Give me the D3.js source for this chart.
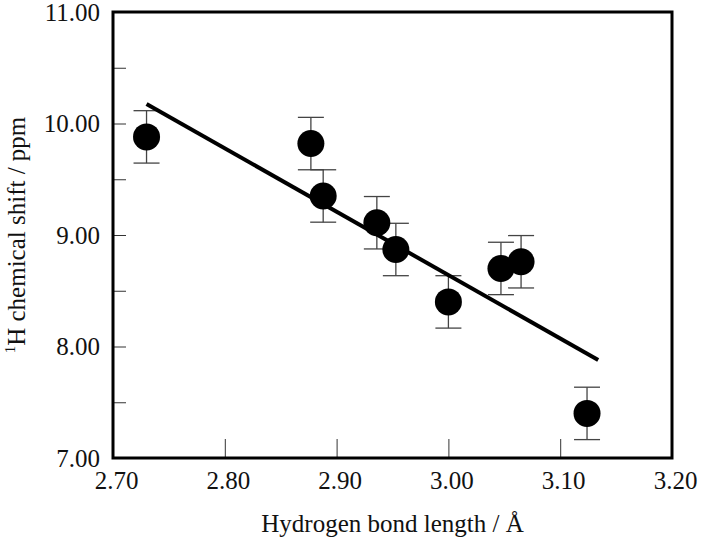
<!DOCTYPE html>
<html>
<head>
<meta charset="utf-8">
<script src="https://cdn.jsdelivr.net/npm/d3@7"></script>
<style>
  html, body { margin: 0; padding: 0; background: #fff; }
  svg { display: block; }
</style>
</head>
<body>
<svg id="chart" width="702" height="544"></svg>
<script>
// Data
const bondLength = [2.730, 2.877, 2.888, 2.936, 2.953, 3.000, 3.047, 3.065, 3.124];
const chemShift  = [9.88, 9.82, 9.35, 9.11, 8.87, 8.40, 8.70, 8.76, 7.40];
const shiftError = [0.235, 0.235, 0.235, 0.235, 0.235, 0.235, 0.235, 0.235, 0.235];
const fitX = [2.730, 3.134];
const fitY = [10.175, 7.879];
const xTicks = [2.70, 2.80, 2.90, 3.00, 3.10, 3.20];
const yTicks = [7.0, 7.5, 8.0, 8.5, 9.0, 9.5, 10.0, 10.5, 11.0];
const xTitle = "Hydrogen bond length / Å";
const yTitleSup = "1";
const yTitleRest = "H chemical shift / ppm";

const W = 702, H = 544;
const m = { left: 113, right: 702 - 672, top: 12, bottom: 544 - 458 };
const font = "'Liberation Serif', 'Times New Roman', serif";

const svg = d3.select("#chart");
svg.append("rect").attr("width", W).attr("height", H).attr("fill", "#fff");

const x = d3.scaleLinear().domain([2.70, 3.20]).range([m.left, W - m.right]);
const y = d3.scaleLinear().domain([7, 11]).range([H - m.bottom, m.top]);

// X axis
const xAxis = d3.axisBottom(x)
  .tickValues(xTicks)
  .tickFormat(d => d.toFixed(2))
  .tickSizeInner(-19).tickSizeOuter(0).tickPadding(13);
const gx = svg.append("g").attr("transform", `translate(0,${H - m.bottom})`).call(xAxis);
gx.select(".domain").remove();
gx.selectAll(".tick line").attr("stroke", "#333").attr("stroke-width", 1);
gx.selectAll(".tick text").attr("font-family", font).attr("font-size", 25).attr("fill", "#111")
  .attr("dx", 3);

// Y axis
const yAxis = d3.axisLeft(y)
  .tickValues(yTicks)
  .tickFormat(d => Number.isInteger(d) ? d.toFixed(2) : "")
  .tickSizeInner(-13).tickSizeOuter(0).tickPadding(13);
const gy = svg.append("g").attr("transform", `translate(${m.left},0)`).call(yAxis);
gy.select(".domain").remove();
gy.selectAll(".tick line").attr("stroke", "#333").attr("stroke-width", 1);
gy.selectAll(".tick text").attr("font-family", font).attr("font-size", 25).attr("fill", "#111");

// Frame
svg.append("rect")
  .attr("x", m.left).attr("y", m.top)
  .attr("width", W - m.right - m.left).attr("height", H - m.bottom - m.top)
  .attr("fill", "none").attr("stroke", "#000").attr("stroke-width", 3);

// Data rows
const rows = bondLength.map((v, i) => ({ x: v, y: chemShift[i], e: shiftError[i] }));

// Error bars
const eb = svg.append("g").attr("stroke", "#444").attr("stroke-width", 1.3);
const capW = 13;
rows.forEach(d => {
  eb.append("line").attr("x1", x(d.x)).attr("x2", x(d.x))
    .attr("y1", y(d.y + d.e)).attr("y2", y(d.y - d.e));
  eb.append("line").attr("x1", x(d.x) - capW).attr("x2", x(d.x) + capW)
    .attr("y1", y(d.y + d.e)).attr("y2", y(d.y + d.e));
  eb.append("line").attr("x1", x(d.x) - capW).attr("x2", x(d.x) + capW)
    .attr("y1", y(d.y - d.e)).attr("y2", y(d.y - d.e));
});

// Fit line
const fit = fitX.map((v, i) => [v, fitY[i]]);
svg.append("path")
  .attr("d", d3.line().x(d => x(d[0])).y(d => y(d[1]))(fit))
  .attr("fill", "none").attr("stroke", "#000").attr("stroke-width", 4);

// Points
svg.append("g").selectAll("circle").data(rows).join("circle")
  .attr("cx", d => x(d.x)).attr("cy", d => y(d.y)).attr("r", 13.5)
  .attr("fill", "#000");

// Axis titles
svg.append("text")
  .attr("x", (m.left + W - m.right) / 2).attr("y", 532)
  .attr("text-anchor", "middle")
  .attr("font-family", font).attr("font-size", 25).attr("fill", "#111")
  .text(xTitle);

const yt = svg.append("text")
  .attr("transform", `translate(25,${(m.top + H - m.bottom) / 2}) rotate(-90)`)
  .attr("text-anchor", "middle")
  .attr("font-family", font).attr("font-size", 25).attr("fill", "#111");
yt.append("tspan").attr("font-size", 15).attr("dy", -10).text(yTitleSup);
yt.append("tspan").attr("dy", 10).text(yTitleRest);
</script>
</body>
</html>
